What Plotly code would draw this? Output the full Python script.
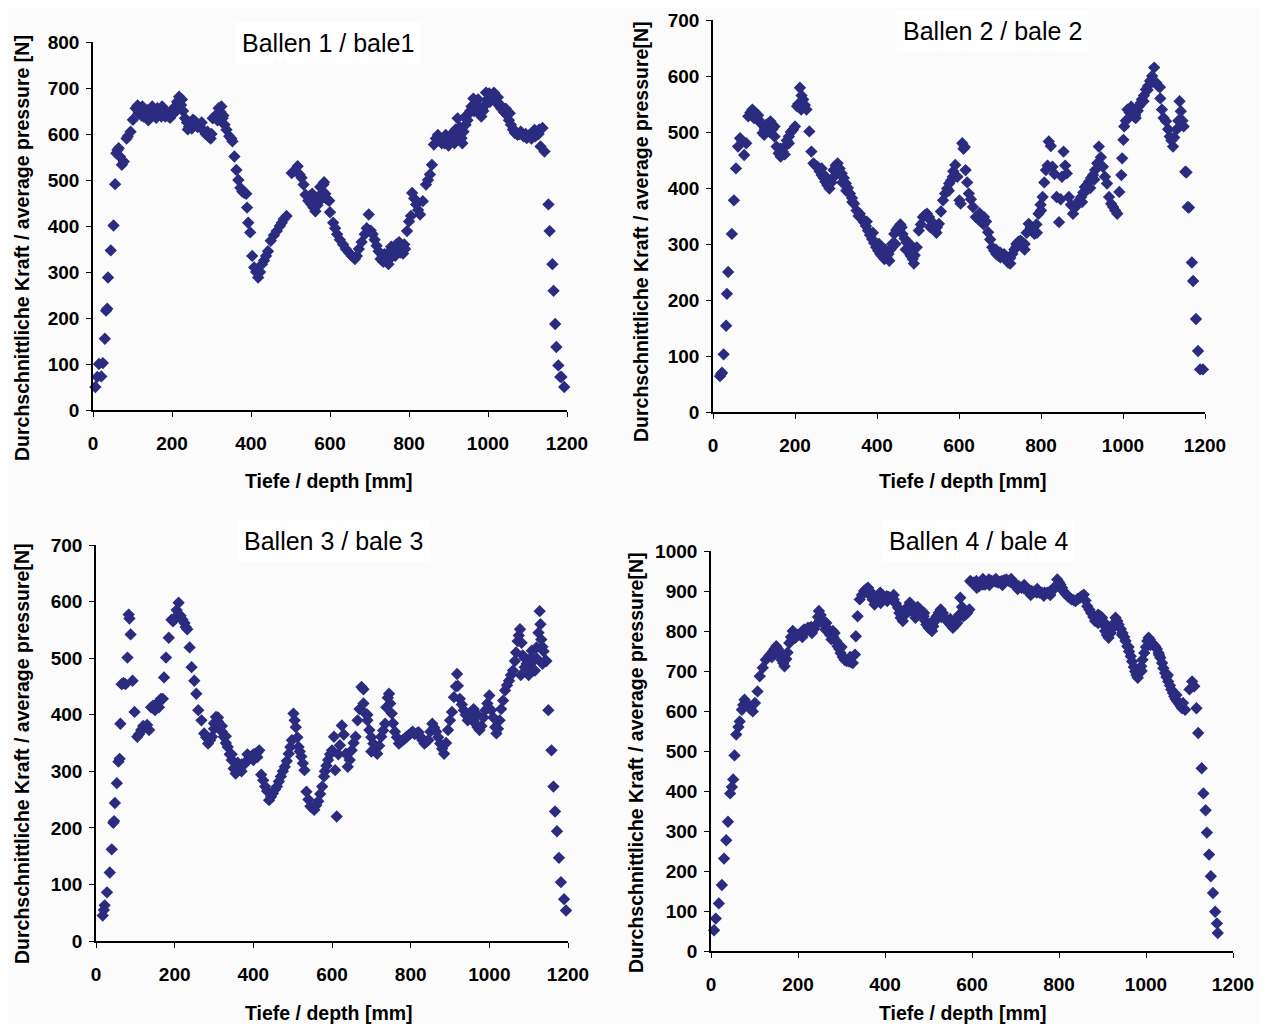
import plotly.graph_objects as go

# ---------------- data: (depth mm, average pressure N) ----------------
bale1_points = [
    (6, 50), (11, 72), (15, 100), (21, 73), (25, 102), (30, 155), (33, 216), (36, 220), (38, 288), (45, 347),
    (52, 401), (56, 491), (59, 558), (62, 565), (65, 569), (68, 551), (73, 533), (78, 540), (85, 590), (88, 595),
    (95, 605), (101, 631), (108, 656), (113, 662), (115, 645), (118, 649), (123, 640), (125, 660), (128, 638),
    (133, 645), (138, 652), (140, 630), (143, 635), (148, 641), (150, 660), (155, 645), (160, 635), (163, 656),
    (168, 648), (173, 638), (175, 660), (178, 645), (183, 638), (185, 650), (190, 640), (195, 635), (198, 649),
    (203, 655), (205, 645), (208, 659), (213, 670), (215, 665), (218, 681), (223, 663), (225, 675), (228, 650),
    (233, 634), (238, 625), (240, 610), (243, 616), (248, 620), (250, 612), (253, 631), (258, 628), (263, 623),
    (265, 615), (270, 618), (275, 625), (278, 609), (285, 600), (290, 605), (293, 594), (298, 590), (300, 600),
    (303, 634), (310, 640), (315, 630), (318, 656), (323, 648), (325, 660), (328, 634), (330, 640), (333, 620),
    (338, 609), (345, 595), (350, 590), (353, 584), (358, 551), (363, 522), (368, 500), (373, 483), (378, 475),
    (383, 472), (388, 470), (390, 440), (393, 407), (398, 386), (403, 335), (408, 310), (413, 300), (418, 288),
    (423, 300), (428, 317), (433, 325), (438, 335), (443, 345), (450, 368), (458, 380), (465, 389), (473, 400),
    (478, 407), (483, 415), (490, 422), (503, 515), (510, 520), (518, 530), (523, 512), (528, 505), (533, 490),
    (538, 468), (545, 455), (548, 465), (553, 447), (555, 470), (558, 440), (563, 432), (565, 455), (568, 445),
    (573, 454), (575, 485), (578, 470), (583, 490), (585, 495), (588, 470), (590, 460), (593, 458), (598, 455),
    (600, 430), (608, 407), (613, 395), (618, 382), (625, 370), (633, 360), (640, 350), (648, 342), (655, 335),
    (663, 328), (668, 335), (673, 350), (680, 365), (688, 382), (693, 395), (698, 425), (703, 390), (708, 382),
    (713, 370), (718, 357), (723, 345), (728, 328), (733, 335), (735, 322), (738, 339), (743, 325), (745, 340),
    (748, 317), (753, 330), (755, 355), (758, 339), (763, 350), (765, 335), (768, 360), (773, 350), (775, 365),
    (778, 342), (783, 352), (785, 340), (788, 360), (790, 350), (795, 389), (800, 410), (805, 422), (808, 472),
    (813, 460), (818, 447), (823, 435), (828, 425), (835, 454), (843, 490), (848, 500), (853, 512), (858, 533),
    (863, 577), (868, 590), (873, 598), (878, 585), (883, 580), (888, 590), (890, 580), (893, 598), (898, 590),
    (900, 575), (903, 584), (908, 600), (913, 591), (915, 580), (918, 610), (923, 634), (925, 600), (928, 615),
    (933, 591), (935, 580), (938, 605), (943, 620), (945, 640), (948, 630), (953, 645), (955, 650), (958, 660),
    (963, 677), (965, 650), (968, 665), (973, 656), (975, 675), (978, 645), (983, 638), (985, 655), (988, 650),
    (993, 663), (995, 690), (998, 675), (1003, 688), (1005, 670), (1008, 680), (1013, 677), (1015, 690),
    (1018, 672), (1023, 670), (1025, 680), (1028, 662), (1033, 656), (1035, 660), (1040, 648), (1045, 655),
    (1048, 641), (1053, 630), (1055, 645), (1058, 620), (1063, 610), (1065, 610), (1068, 602), (1075, 598),
    (1080, 600), (1083, 605), (1090, 595), (1095, 600), (1098, 591), (1105, 598), (1110, 590), (1113, 602),
    (1118, 609), (1120, 595), (1123, 605), (1128, 600), (1130, 610), (1133, 573), (1138, 613), (1143, 562),
    (1153, 447), (1156, 389), (1163, 317), (1166, 259), (1170, 187), (1173, 137), (1178, 97), (1183, 72),
    (1186, 72), (1193, 50),
]

bale2_points = [
    (17, 64), (20, 68), (22, 70), (26, 103), (32, 154), (34, 211), (37, 250), (46, 318), (51, 378), (56, 435),
    (61, 474), (66, 489), (71, 484), (76, 459), (81, 480), (86, 528), (91, 535), (96, 540), (100, 525), (101, 536),
    (106, 531), (110, 530), (111, 522), (116, 516), (121, 498), (125, 495), (126, 505), (130, 513), (135, 510),
    (138, 500), (140, 519), (145, 505), (150, 492), (150, 510), (155, 474), (160, 462), (165, 456), (165, 470),
    (170, 465), (175, 474), (175, 460), (180, 485), (185, 492), (185, 480), (190, 500), (195, 504), (200, 510),
    (205, 546), (208, 550), (212, 579), (215, 540), (216, 565), (220, 558), (222, 545), (224, 548), (228, 540),
    (235, 501), (240, 465), (245, 444), (250, 440), (255, 438), (260, 430), (265, 423), (265, 435), (270, 418),
    (274, 411), (275, 420), (279, 405), (284, 399), (285, 410), (289, 410), (294, 432), (295, 420), (299, 440),
    (304, 444), (305, 430), (309, 435), (314, 426), (315, 410), (319, 418), (324, 408), (325, 395), (329, 400),
    (334, 390), (339, 382), (340, 375), (344, 372), (350, 360), (355, 350), (358, 354), (363, 346), (368, 339),
    (373, 332), (375, 340), (378, 324), (383, 316), (388, 309), (390, 320), (393, 302), (398, 294), (403, 288),
    (405, 300), (408, 282), (413, 278), (418, 273), (420, 290), (423, 276), (428, 282), (430, 270), (433, 290),
    (437, 300), (442, 318), (445, 300), (447, 325), (452, 330), (457, 335), (460, 330), (462, 318), (467, 310),
    (470, 290), (472, 303), (477, 290), (480, 300), (482, 279), (487, 273), (490, 265), (492, 280), (497, 294),
    (502, 324), (507, 335), (512, 348), (517, 352), (522, 354), (527, 348), (530, 330), (531, 342), (536, 335),
    (541, 324), (545, 320), (546, 330), (551, 336), (556, 358), (561, 378), (566, 390), (571, 399), (575, 395),
    (576, 408), (581, 414), (585, 420), (586, 430), (591, 441), (596, 420), (601, 378), (604, 372), (608, 480),
    (611, 470), (614, 473), (616, 432), (620, 410), (624, 390), (629, 380), (634, 366), (641, 348), (646, 345),
    (650, 355), (651, 342), (656, 345), (660, 335), (661, 348), (666, 340), (671, 321), (676, 308), (681, 294),
    (686, 288), (690, 290), (691, 282), (696, 279), (700, 285), (701, 276), (706, 280), (710, 282), (715, 272),
    (720, 267), (725, 275), (725, 265), (730, 282), (735, 290), (740, 300), (740, 295), (745, 304), (750, 306),
    (755, 303), (760, 300), (760, 290), (765, 320), (770, 336), (775, 330), (780, 324), (784, 318), (789, 335),
    (790, 320), (794, 354), (799, 370), (800, 360), (804, 384), (808, 410), (812, 432), (816, 440), (819, 483),
    (824, 475), (828, 438), (833, 425), (838, 384), (844, 339), (848, 380), (851, 420), (855, 465), (859, 440),
    (863, 426), (868, 384), (873, 370), (878, 354), (883, 365), (888, 372), (893, 378), (898, 384), (900, 375),
    (903, 392), (907, 402), (910, 395), (912, 405), (917, 411), (920, 400), (922, 418), (927, 423), (930, 415),
    (932, 432), (937, 444), (941, 474), (946, 455), (951, 438), (956, 420), (961, 408), (966, 384), (971, 372),
    (976, 366), (981, 360), (986, 354), (991, 393), (996, 423), (998, 453), (1001, 486), (1003, 510), (1007, 520),
    (1011, 540), (1016, 535), (1020, 545), (1021, 531), (1026, 528), (1030, 530), (1031, 525), (1036, 538),
    (1039, 546), (1043, 552), (1046, 558), (1050, 555), (1051, 565), (1056, 576), (1060, 575), (1061, 582),
    (1066, 591), (1071, 600), (1075, 590), (1076, 615), (1081, 588), (1086, 582), (1090, 580), (1091, 560),
    (1095, 540), (1099, 525), (1105, 519), (1110, 505), (1114, 492), (1118, 485), (1122, 474), (1125, 490),
    (1130, 504), (1135, 520), (1138, 555), (1141, 537), (1145, 520), (1148, 510), (1152, 429), (1155, 428),
    (1158, 366), (1161, 365), (1168, 267), (1171, 234), (1178, 166), (1183, 109), (1188, 76), (1195, 76),
]

bale3_points = [
    (17, 45), (20, 55), (22, 63), (28, 86), (35, 121), (40, 162), (44, 209), (46, 212), (48, 244), (53, 279),
    (57, 317), (60, 322), (62, 384), (65, 454), (70, 456), (75, 454), (80, 501), (83, 577), (85, 570), (88, 542),
    (93, 460), (98, 405), (105, 361), (110, 366), (115, 373), (120, 380), (125, 378), (130, 382), (135, 373),
    (140, 413), (145, 416), (150, 408), (155, 420), (160, 413), (165, 428), (170, 428), (173, 466), (178, 501),
    (185, 536), (192, 568), (196, 565), (200, 571), (205, 585), (210, 598), (215, 575), (220, 568), (225, 562),
    (228, 555), (232, 551), (238, 519), (243, 484), (250, 460), (255, 437), (260, 408), (268, 390), (275, 367),
    (280, 360), (285, 349), (290, 355), (295, 361), (300, 375), (300, 385), (305, 396), (310, 388), (310, 395),
    (315, 378), (320, 370), (320, 380), (325, 361), (330, 350), (330, 362), (335, 343), (340, 330), (345, 320),
    (345, 330), (350, 305), (355, 296), (360, 300), (360, 315), (365, 308), (370, 312), (370, 300), (375, 311),
    (380, 315), (385, 320), (385, 330), (390, 322), (395, 326), (400, 330), (400, 320), (405, 331), (410, 333),
    (410, 325), (415, 337), (420, 294), (425, 284), (430, 273), (435, 265), (440, 249), (445, 255), (450, 261),
    (455, 268), (460, 273), (465, 282), (470, 291), (475, 300), (480, 308), (485, 318), (490, 331), (494, 343),
    (498, 355), (502, 402), (505, 390), (508, 378), (512, 360), (515, 343), (518, 335), (522, 326), (526, 314),
    (530, 302), (535, 264), (540, 250), (545, 238), (550, 235), (555, 232), (560, 240), (565, 247), (570, 260),
    (575, 273), (580, 291), (582, 300), (586, 310), (590, 320), (595, 330), (600, 337), (605, 361), (608, 302),
    (612, 220), (616, 330), (620, 346), (625, 381), (630, 365), (635, 331), (640, 308), (645, 320), (650, 337),
    (655, 350), (660, 361), (665, 390), (670, 410), (675, 449), (680, 445), (680, 420), (685, 402), (690, 390),
    (690, 400), (695, 373), (700, 360), (700, 335), (705, 349), (710, 340), (715, 331), (720, 345), (725, 361),
    (730, 372), (735, 384), (738, 413), (742, 430), (745, 437), (748, 420), (752, 402), (755, 385), (760, 370),
    (765, 360), (770, 349), (775, 352), (780, 355), (785, 358), (790, 361), (795, 364), (800, 367), (805, 370),
    (810, 366), (815, 367), (820, 369), (825, 361), (830, 355), (835, 349), (840, 352), (845, 355), (850, 370),
    (855, 384), (860, 377), (865, 370), (870, 360), (875, 349), (880, 340), (885, 331), (890, 350), (895, 373),
    (900, 390), (905, 405), (910, 431), (915, 450), (918, 472), (920, 451), (925, 428), (930, 418), (935, 408),
    (940, 400), (945, 390), (950, 395), (955, 402), (960, 390), (960, 410), (965, 384), (970, 378), (970, 400),
    (975, 373), (980, 380), (985, 395), (990, 408), (995, 420), (1000, 434), (1005, 408), (1010, 395), (1015, 378),
    (1018, 367), (1022, 375), (1026, 390), (1030, 410), (1035, 425), (1040, 443), (1045, 452), (1050, 460),
    (1055, 470), (1060, 478), (1065, 495), (1068, 510), (1072, 530), (1075, 540), (1078, 551), (1080, 470),
    (1082, 527), (1085, 505), (1090, 484), (1090, 500), (1095, 490), (1100, 492), (1100, 470), (1105, 500),
    (1108, 513), (1110, 480), (1112, 495), (1116, 478), (1120, 519), (1120, 500), (1125, 545), (1128, 583),
    (1130, 560), (1132, 533), (1135, 520), (1135, 490), (1138, 512), (1142, 495), (1145, 495), (1150, 408),
    (1158, 337), (1163, 273), (1167, 229), (1172, 194), (1177, 147), (1182, 104), (1190, 74), (1195, 54),
]

bale4_points = [
    (7, 52), (11, 81), (18, 119), (25, 165), (30, 231), (35, 277), (39, 323), (44, 394), (48, 410), (51, 429),
    (54, 489), (58, 541), (63, 560), (66, 574), (71, 603), (74, 615), (77, 628), (82, 620), (86, 612), (91, 605),
    (96, 599), (101, 620), (107, 649), (112, 687), (119, 708), (126, 728), (133, 737), (138, 742), (140, 735),
    (142, 749), (146, 755), (150, 762), (154, 755), (157, 749), (160, 740), (162, 728), (166, 720), (169, 712),
    (173, 730), (176, 746), (180, 770), (184, 785), (188, 800), (190, 790), (194, 783), (199, 790), (204, 791),
    (209, 798), (210, 785), (214, 804), (219, 800), (223, 808), (228, 802), (230, 810), (232, 795), (237, 805),
    (242, 816), (246, 835), (248, 850), (250, 825), (252, 840), (256, 829), (260, 815), (263, 804), (265, 820),
    (267, 800), (270, 804), (274, 790), (277, 779), (280, 800), (281, 785), (284, 795), (288, 775), (291, 762),
    (295, 755), (298, 745), (300, 760), (303, 735), (307, 728), (312, 725), (317, 724), (320, 735), (322, 722),
    (326, 720), (331, 741), (333, 787), (337, 837), (342, 879), (347, 890), (352, 900), (357, 905), (360, 895),
    (361, 908), (365, 900), (368, 891), (372, 878), (375, 885), (376, 866), (380, 875), (383, 883), (386, 890),
    (389, 896), (390, 870), (393, 888), (397, 879), (401, 882), (404, 887), (405, 875), (408, 885), (411, 883),
    (416, 881), (420, 879), (420, 890), (425, 868), (430, 858), (433, 845), (436, 833), (440, 845), (441, 825),
    (445, 840), (449, 854), (453, 862), (455, 850), (457, 871), (460, 862), (464, 854), (467, 845), (470, 833),
    (472, 840), (475, 860), (477, 850), (481, 854), (485, 846), (489, 837), (490, 845), (492, 826), (495, 816),
    (500, 808), (505, 804), (508, 800), (510, 825), (511, 812), (515, 825), (519, 837), (524, 846), (528, 854),
    (530, 835), (533, 845), (537, 833), (542, 826), (547, 820), (550, 830), (552, 814), (556, 808), (561, 814),
    (565, 830), (566, 820), (570, 840), (573, 883), (577, 860), (580, 837), (585, 841), (589, 845), (594, 854),
    (596, 925), (599, 922), (603, 921), (607, 915), (610, 925), (611, 908), (616, 912), (620, 916), (625, 916),
    (625, 930), (630, 916), (635, 920), (639, 929), (640, 915), (645, 925), (650, 925), (655, 923), (655, 930),
    (660, 921), (665, 923), (669, 925), (670, 915), (674, 927), (679, 929), (685, 925), (690, 921), (690, 930),
    (696, 918), (702, 916), (705, 905), (708, 912), (714, 908), (720, 906), (720, 915), (726, 904), (732, 902),
    (735, 890), (737, 900), (743, 898), (749, 896), (750, 905), (755, 896), (761, 896), (765, 888), (767, 896),
    (773, 896), (779, 898), (780, 890), (784, 900), (790, 910), (796, 929), (800, 922), (800, 915), (803, 916),
    (807, 908), (810, 900), (815, 893), (820, 887), (825, 883), (829, 879), (834, 877), (838, 875), (843, 880),
    (848, 883), (852, 887), (857, 891), (861, 876), (865, 862), (870, 853), (874, 845), (879, 835), (883, 825),
    (887, 833), (890, 841), (890, 820), (895, 837), (899, 833), (903, 815), (905, 820), (906, 800), (910, 790),
    (914, 783), (919, 795), (920, 810), (924, 808), (927, 820), (930, 833), (934, 825), (937, 816), (942, 805),
    (945, 790), (946, 795), (950, 785), (953, 775), (957, 762), (960, 760), (961, 749), (965, 737), (968, 724),
    (972, 710), (975, 699), (978, 690), (981, 683), (985, 697), (989, 712), (990, 700), (992, 728), (996, 745),
    (1000, 760), (1003, 775), (1006, 783), (1009, 778), (1010, 765), (1013, 770), (1017, 766), (1021, 762),
    (1025, 755), (1029, 745), (1030, 740), (1033, 733), (1037, 720), (1040, 707), (1044, 695), (1047, 685),
    (1050, 690), (1051, 674), (1055, 664), (1058, 654), (1062, 645), (1065, 637), (1068, 630), (1070, 640),
    (1072, 624), (1076, 618), (1080, 612), (1083, 607), (1085, 620), (1090, 603), (1100, 654), (1106, 674),
    (1111, 662), (1116, 607), (1120, 545), (1128, 457), (1132, 394), (1137, 352), (1140, 296), (1145, 241),
    (1149, 187), (1154, 145), (1159, 98), (1163, 69), (1165, 45),
]

panel_titles = ["Ballen 1 / bale1", "Ballen 2 / bale 2", "Ballen 3 / bale 3", "Ballen 4 / bale 4"]
y_titles = ["Durchschnittliche Kraft / average pressure [N]",
            "Durchschnittliche Kraft / average pressure[N]",
            "Durchschnittliche Kraft / average pressure[N]",
            "Durchschnittliche Kraft / average pressure[N]"]
x_title = "Tiefe / depth [mm]"
y_max = [800, 700, 700, 1000]
x_ticks = [0, 200, 400, 600, 800, 1000, 1200]

# ---------------- layout geometry ----------------
# The page has an 8 px body margin, so the figure is 1260x1016 and placed at (8, 8);
# positions below are in page pixels and converted to figure pixels (minus 8).
OFF = 8
W, H = 1268 - OFF, 1024 - OFF
# plot area boxes: left, right, top, bottom (page px)
boxes = [(93, 567, 42, 410), (713, 1205, 20, 412), (96, 568, 545, 941), (711, 1233, 551, 951)]
title_pos = [(328, 43), (992, 31), (333, 541), (978, 541)]
xtitle_pos = [(329, 481), (963, 481), (329, 1013), (963, 1013)]
ytitle_pos = [(22, 248), (641, 232), (22, 754), (636, 763)]


def fx(px):
    return (px - OFF) / W


def fy(py):
    return 1 - (py - OFF) / H


MARK = "#2b2b80"
FONT = "Liberation Sans, Arial, sans-serif"

fig = go.Figure()
series = [bale1_points, bale2_points, bale3_points, bale4_points]

annotations = []
for i, (pts, (l, r, t, b)) in enumerate(zip(series, boxes)):
    n = "" if i == 0 else str(i + 1)
    xs = [p[0] for p in pts]
    ys = [p[1] for p in pts]
    fig.add_trace(go.Scatter(
        x=xs, y=ys, mode="markers", xaxis="x" + n, yaxis="y" + n,
        marker=dict(symbol="diamond", size=9.5, color=MARK, line=dict(width=0)),
        cliponaxis=False, showlegend=False, hoverinfo="x+y"))
    axis_common = dict(showgrid=False, zeroline=False, showline=True, linecolor="black",
                       linewidth=1.6, ticks="outside", ticklen=5, tickcolor="black", tickwidth=1.4,
                       automargin=False,
                       tickfont=dict(family=FONT, size=19, color="black", weight="bold"))
    fig.layout["xaxis" + n] = dict(domain=[fx(l), fx(r)], range=[0, 1200], tickvals=x_ticks,
                                   anchor="y" + n, ticklabelstandoff=10, **axis_common)
    fig.layout["yaxis" + n] = dict(domain=[fy(b), fy(t)], range=[0, y_max[i]], dtick=100,
                                   anchor="x" + n, ticklabelstandoff=3, **axis_common)
    tx, ty = title_pos[i]
    annotations.append(dict(text=panel_titles[i], x=fx(tx), y=fy(ty), xref="paper", yref="paper",
                            showarrow=False, xanchor="center", yanchor="middle",
                            font=dict(family=FONT, size=25, color="black"),
                            bgcolor="white", borderpad=6))
    xx, xy = xtitle_pos[i]
    annotations.append(dict(text=x_title, x=fx(xx), y=fy(xy), xref="paper", yref="paper",
                            showarrow=False, xanchor="center", yanchor="middle",
                            font=dict(family=FONT, size=19.5, color="black", weight="bold")))
    yx, yy = ytitle_pos[i]
    annotations.append(dict(text=y_titles[i], x=fx(yx), y=fy(yy), xref="paper", yref="paper",
                            showarrow=False, xanchor="center", yanchor="middle", textangle=-90,
                            font=dict(family=FONT, size=19.5, color="black", weight="bold")))

fig.update_layout(template="none", width=W, height=H, margin=dict(l=0, r=0, t=0, b=0, autoexpand=False),
                  paper_bgcolor="#fcfbfb", plot_bgcolor="#fcfbfb",
                  annotations=annotations, showlegend=False)

fig.write_html("out.html")
